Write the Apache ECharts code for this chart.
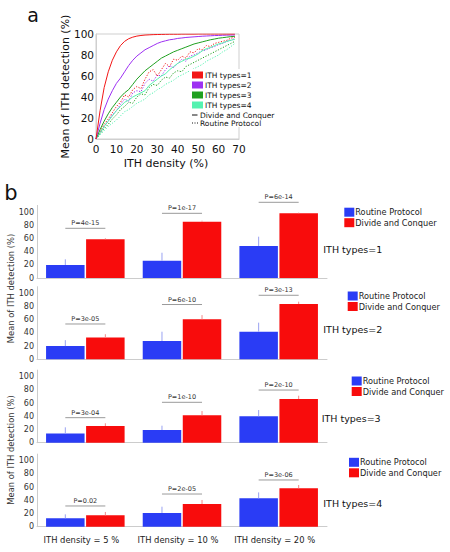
<!DOCTYPE html>
<html><head><meta charset="utf-8">
<script src="https://cdn.jsdelivr.net/npm/echarts@6/dist/echarts.min.js"></script>
<style>html,body{margin:0;padding:0;background:#fff}#c{width:450px;height:552px}</style>
</head><body><div id="c"></div>
<script>
// ---------- Panel a data ----------
const densityX = [0,2,4,6,8,10,12,14,16,18,20,22,24,26,28,30,32,34,36,38,40,42,44,46,48,50,52,54,56,58,60,62,64,66,68];
const dcType1 = [0,27,49,64,75,83,89,93,95.5,97,98,98.6,99,99.2,99.4,99.5,99.6,99.7,99.8,99.8,99.8,99.9,99.9,99.9,99.9,100,100,100,100,100,100,100,100,100,100];
const dcType2 = [0,15,28,38,46,53,58,64,70,75,79,82,85,87,89,91,92.5,93.5,94.5,95,95.8,96.2,96.7,97,97.3,97.6,97.9,98.1,98.3,98.5,98.6,98.8,98.9,99,99.1];
const dcType3 = [0,9,17,24,30,35,40,44,47,52,57,61,65,68,71,74,77,79,81,83,84.5,86,87.5,89,90.5,91.5,92.5,93.5,94.5,95.2,96,96.5,97,97.5,97.8];
const dcType4 = [0,6,12,17,22,27,31,35,37,40,42,44,46,51,54,57,60,62,66,69,72,74,76,77,79,81,84,86,87,89,90.5,91.5,93,94,95];
const rpType1 = [0,7,14,19,25,31,35,42,40,47,50,48,57,64,66,60,66,72,69,76,75,79,77,83,82,86,85,89,88,91,92,93,94,96,97];
const rpType2 = [0,6,12,17,23,27,33,38,36,44,46,45,53,57,55,61,60,66,70,68,72,76,74,79,80,82,84,85,87,88,90,91,93,94,96];
const rpType3 = [0,5,10,14,19,23,28,31,35,34,40,43,42,49,52,51,56,59,58,63,65,64,69,71,73,75,77,79,81,83,85,87,89,91,93];
const rpType4 = [0,4,8,12,15,18,22,26,28,31,34,36,38,42,44,47,49,52,54,56,59,61,63,65,67,69,71,74,76,78,80,83,85,88,91];
const typeNames = ['ITH types=1','ITH types=2','ITH types=3','ITH types=4'];
const typeColors = ['#f21616','#9d30f2','#20a020','#55f2b0'];
const xTicksA = [0,10,20,30,40,50,60,70];
const yTicksA = [0,20,40,60,80,100];

// ---------- Panel b data ----------
const densityCats = ['ITH density = 5 %','ITH density = 10 %','ITH density = 20 %'];
const routineMean = [[19.7,26.2,48.5],[20,27.7,41.8],[14.1,19.2,40],[12.7,20.8,43]];
const routineSD   = [[8.6,12.1,14.1],[9,14.1,13.7],[9.2,6.6,9.5],[6,9.5,9]];
const dcMean      = [[58.6,85.3,98],[33,60.6,83.8],[25.3,41.5,66.2],[17.2,34.4,58.2]];
const dcSD        = [[1.6,1.5,1],[5,6.4,3.5],[4.1,6.5,5],[5.1,6.1,5]];
const pLineY      = [[75.3,98,114.7],[53.5,83,97],[37.9,61.2,79.8],[31.4,49.5,70.8]];
const pLabels     = [['P=4e-15','P=1e-17','P=6e-14'],['P=3e-05','P=6e-10','P=3e-13'],['P=3e-04','P=1e-10','P=2e-10'],['P=0.02','P=2e-05','P=3e-06']];
const yTicksB = [0,20,40,60,80,100];

// ---------- layout ----------
const FONT = 'DejaVu Sans';
const blue = '#2a3cf5', red = '#f80c0c';
const blueErr = '#9aa2f2', redErr = '#f28a8a';
const barW = 38.5, barGapPct = 4;
const barOffset = (barW + barW * barGapPct / 100) / 2;
const panelTops = [205.4, 286.7, 370.1, 454.1];
const panelH = 72.6;

const grids = [{left: 96, top: 34, width: 143, height: 105, show: true, borderColor: '#cfcfcf', borderWidth: 1}];
const xAxes = [{gridIndex: 0, type: 'value', min: 0, max: 70, interval: 10,
  axisLine: {lineStyle: {color: '#cfcfcf'}}, axisTick: {show: false}, splitLine: {show: false},
  axisLabel: {fontSize: 10.5, color: '#111', margin: 4, fontFamily: FONT}}];
const yAxes = [{gridIndex: 0, type: 'value', min: 0, max: 100, interval: 20,
  axisLine: {show: true, lineStyle: {color: '#cfcfcf'}}, axisTick: {show: false}, splitLine: {show: false},
  axisLabel: {fontSize: 10.5, color: '#111', margin: 2, fontFamily: FONT}}];
const series = [];
const dcArr = [dcType1, dcType2, dcType3, dcType4];
const rpArr = [rpType1, rpType2, rpType3, rpType4];
for (let t = 3; t >= 0; t--) {
  series.push({type: 'line', name: 'rp' + t, xAxisIndex: 0, yAxisIndex: 0, symbol: 'none', silent: true,
    data: densityX.map((x, i) => [x, rpArr[t][i]]),
    lineStyle: {color: typeColors[t], width: 1, type: [1.2, 1.6]}, z: 2});
}
for (let t = 3; t >= 0; t--) {
  series.push({type: 'line', name: typeNames[t], xAxisIndex: 0, yAxisIndex: 0, symbol: 'none', silent: true,
    data: densityX.map((x, i) => [x, dcArr[t][i]]),
    lineStyle: {color: typeColors[t], width: 1}, z: 3});
}

const legends = [];
const legendPos = [[344.3, 207.7], [347.7, 291.5], [351.7, 376.5], [349, 457.8]];
for (let p = 0; p < 4; p++) {
  const gi = p + 1;
  grids.push({left: 37, top: panelTops[p], width: 290, height: panelH});
  xAxes.push({gridIndex: gi, type: 'category', data: densityCats,
    axisLine: {lineStyle: {color: '#cccccc'}}, axisTick: {show: false},
    axisLabel: {show: p === 3, interval: 0, fontSize: 8.4, color: '#222', margin: 9, fontFamily: FONT,
      padding: [0, 8, 0, 0]}});
  yAxes.push({gridIndex: gi, type: 'value', min: 0, max: 110, interval: 20,
    axisLine: {show: true, lineStyle: {color: '#cccccc'}}, axisTick: {show: false}, splitLine: {show: false},
    axisLabel: {fontSize: 8, color: '#333', margin: 3, fontFamily: FONT,
      formatter: v => (yTicksB.indexOf(v) >= 0 ? String(v) : '')}});
  series.push({type: 'bar', name: 'Routine Protocol', xAxisIndex: gi, yAxisIndex: gi,
    data: routineMean[p], barWidth: barW, barGap: barGapPct + '%', itemStyle: {color: blue}, silent: true});
  series.push({type: 'bar', name: 'Divide and Conquer', xAxisIndex: gi, yAxisIndex: gi,
    data: dcMean[p], barWidth: barW, barGap: barGapPct + '%', itemStyle: {color: red}, silent: true});
  [[routineMean[p], routineSD[p], -1, blueErr], [dcMean[p], dcSD[p], 1, redErr]].forEach(([m, s, sign, col]) => {
    series.push({type: 'custom', xAxisIndex: gi, yAxisIndex: gi, silent: true, z: 5,
      data: m.map((v, i) => [i, v, v + s[i]]),
      renderItem: (params, api) => {
        const a = api.coord([api.value(0), api.value(1)]);
        const b = api.coord([api.value(0), api.value(2)]);
        const x = a[0] + sign * barOffset;
        return {type: 'line', shape: {x1: x, y1: a[1], x2: x, y2: b[1]}, style: {stroke: col, lineWidth: 1}};
      }});
  });
  series.push({type: 'custom', xAxisIndex: gi, yAxisIndex: gi, silent: true, z: 6, clip: false,
    data: pLineY[p].map((v, i) => [i, v]),
    renderItem: (params, api) => {
      const c = api.coord([api.value(0), api.value(1)]);
      return {type: 'group', children: [
        {type: 'line', shape: {x1: c[0] - barOffset, y1: c[1], x2: c[0] + barOffset, y2: c[1]},
          style: {stroke: '#9a9a9a', lineWidth: 1}},
        {type: 'text', x: c[0], y: c[1] - 1.5,
          style: {text: pLabels[p][params.dataIndex], fill: '#333', fontSize: 6.5, fontFamily: FONT,
            align: 'center', verticalAlign: 'bottom'}}
      ]};
    }});
  legends.push({data: ['Routine Protocol', 'Divide and Conquer'], orient: 'vertical', icon: 'rect',
    itemWidth: 10, itemHeight: 9, itemGap: 1.5, padding: 0, selectedMode: false,
    left: legendPos[p][0], top: legendPos[p][1],
    textStyle: {fontSize: 8.2, color: '#222', fontFamily: FONT, padding: [0, 0, 0, -4]}});
}

// graphic: labels and panel a legend
const graphic = [
  {type: 'text', x: 33, y: 15, style: {text: 'a', fontSize: 19, fontFamily: FONT, fill: '#111', align: 'center', verticalAlign: 'middle'}},
  {type: 'text', x: 11, y: 193, style: {text: 'b', fontSize: 21, fontFamily: FONT, fill: '#111', align: 'center', verticalAlign: 'middle'}},
  {type: 'text', x: 65, y: 86.5, rotation: Math.PI / 2, style: {text: 'Mean of ITH detection (%)', fontSize: 11, fontFamily: FONT, fill: '#111', align: 'center', verticalAlign: 'middle'}},
  {type: 'text', x: 166, y: 163, style: {text: 'ITH density (%)', fontSize: 11, fontFamily: FONT, fill: '#111', align: 'center', verticalAlign: 'middle'}},
  {type: 'text', x: 10.5, y: 288.5, rotation: Math.PI / 2, style: {text: 'Mean of ITH detection (%)', fontSize: 8.4, fontFamily: FONT, fill: '#333', align: 'center', verticalAlign: 'middle'}},
  {type: 'text', x: 10.5, y: 450, rotation: Math.PI / 2, style: {text: 'Mean of ITH detection (%)', fontSize: 8.4, fontFamily: FONT, fill: '#333', align: 'center', verticalAlign: 'middle'}},
  {type: 'rect', shape: {x: 189, y: 69, width: 72, height: 58}, style: {fill: '#fff'}, z: 50}
];
const typeLabelPos = [[323.3, 249.3], [323.3, 329.3], [321.7, 418.3], [323.3, 503.3]];
typeLabelPos.forEach((pos, i) => graphic.push({type: 'text', x: pos[0], y: pos[1],
  style: {text: typeNames[i], fontSize: 9.5, fontFamily: FONT, fill: '#111', align: 'left', verticalAlign: 'middle'}}));
typeNames.forEach((n, i) => {
  const yc = 75 + i * 10;
  graphic.push({type: 'rect', z: 51, shape: {x: 192, y: yc - 3.5, width: 11, height: 7}, style: {fill: typeColors[i]}});
  graphic.push({type: 'text', z: 51, x: 205, y: yc, style: {text: n, fontSize: 7.5, fontFamily: FONT, fill: '#111', align: 'left', verticalAlign: 'middle'}});
});
graphic.push({type: 'line', z: 51, shape: {x1: 192, y1: 115, x2: 197.5, y2: 115}, style: {stroke: '#111', lineWidth: 1}});
graphic.push({type: 'text', z: 51, x: 200, y: 115, style: {text: 'Divide and Conquer', fontSize: 7.5, fontFamily: FONT, fill: '#111', align: 'left', verticalAlign: 'middle'}});
graphic.push({type: 'line', z: 51, shape: {x1: 192, y1: 123, x2: 198, y2: 123}, style: {stroke: '#111', lineWidth: 1, lineDash: [1, 1.5]}});
graphic.push({type: 'text', z: 51, x: 200, y: 123, style: {text: 'Routine Protocol', fontSize: 7.5, fontFamily: FONT, fill: '#111', align: 'left', verticalAlign: 'middle'}});

const chart = echarts.init(document.getElementById('c'), null, {renderer: 'svg', width: 450, height: 552});
chart.setOption({
  animation: false,
  backgroundColor: '#ffffff',
  textStyle: {fontFamily: FONT},
  grid: grids, xAxis: xAxes, yAxis: yAxes, series: series, legend: legends, graphic: graphic
});
</script></body></html>
